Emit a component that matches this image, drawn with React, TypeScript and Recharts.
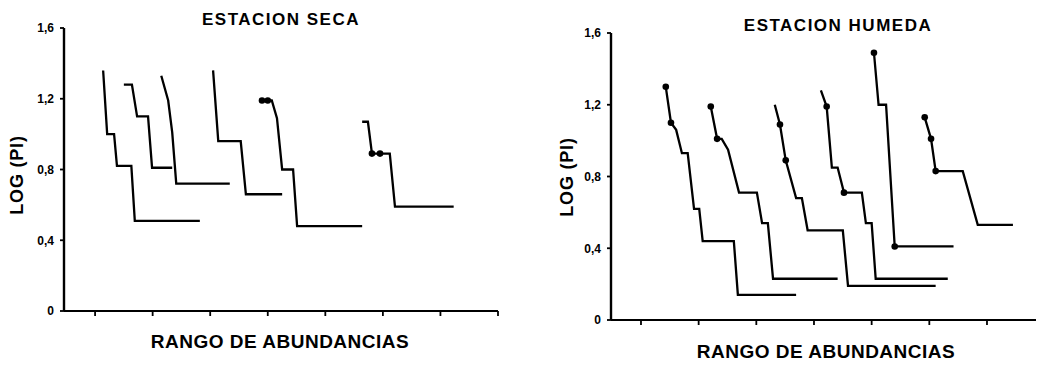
import React from "react";
import { LineChart, Line, XAxis, YAxis } from "recharts";

type P = { x: number; y: number; d?: boolean };

// ESTACION SECA curves (x = abundance rank position, y = log(Pi))
const seca1: P[] = [
  { x: 1.14, y: 1.36 }, { x: 1.21, y: 1.0 }, { x: 1.33, y: 1.0 }, { x: 1.38, y: 0.82 },
  { x: 1.63, y: 0.82 }, { x: 1.69, y: 0.51 }, { x: 2.82, y: 0.51 },
];
const seca2: P[] = [
  { x: 1.5, y: 1.28 }, { x: 1.64, y: 1.28 }, { x: 1.73, y: 1.1 }, { x: 1.92, y: 1.1 },
  { x: 1.99, y: 0.81 }, { x: 2.34, y: 0.81 },
];
const seca3: P[] = [
  { x: 2.15, y: 1.33 }, { x: 2.27, y: 1.19 }, { x: 2.34, y: 1.01 }, { x: 2.41, y: 0.72 },
  { x: 3.34, y: 0.72 },
];
const seca4: P[] = [
  { x: 3.05, y: 1.36 }, { x: 3.14, y: 0.96 }, { x: 3.53, y: 0.96 }, { x: 3.62, y: 0.66 },
  { x: 4.25, y: 0.66 },
];
const seca5: P[] = [
  { x: 3.9, y: 1.19, d: true }, { x: 4.0, y: 1.19, d: true }, { x: 4.07, y: 1.19 },
  { x: 4.16, y: 1.09 }, { x: 4.25, y: 0.8 }, { x: 4.44, y: 0.8 }, { x: 4.51, y: 0.48 },
  { x: 5.64, y: 0.48 },
];
const seca6: P[] = [
  { x: 5.64, y: 1.07 }, { x: 5.74, y: 1.07 }, { x: 5.81, y: 0.89, d: true },
  { x: 5.95, y: 0.89, d: true }, { x: 6.12, y: 0.89 }, { x: 6.21, y: 0.59 }, { x: 7.23, y: 0.59 },
];

// ESTACION HUMEDA curves
const humeda1: P[] = [
  { x: 1.43, y: 1.3, d: true }, { x: 1.52, y: 1.1, d: true }, { x: 1.61, y: 1.06 },
  { x: 1.71, y: 0.93 }, { x: 1.81, y: 0.93 }, { x: 1.92, y: 0.62 }, { x: 2.01, y: 0.62 },
  { x: 2.07, y: 0.44 }, { x: 2.61, y: 0.44 }, { x: 2.68, y: 0.14 }, { x: 3.69, y: 0.14 },
];
const humeda2: P[] = [
  { x: 2.21, y: 1.19, d: true }, { x: 2.32, y: 1.01, d: true }, { x: 2.4, y: 1.01 },
  { x: 2.51, y: 0.95 }, { x: 2.7, y: 0.71 }, { x: 3.01, y: 0.71 }, { x: 3.1, y: 0.54 },
  { x: 3.2, y: 0.54 }, { x: 3.29, y: 0.23 }, { x: 4.41, y: 0.23 },
];
const humeda3: P[] = [
  { x: 3.32, y: 1.2 }, { x: 3.41, y: 1.09, d: true }, { x: 3.51, y: 0.89, d: true },
  { x: 3.69, y: 0.68 }, { x: 3.79, y: 0.68 }, { x: 3.89, y: 0.5 }, { x: 4.5, y: 0.5 },
  { x: 4.59, y: 0.19 }, { x: 6.11, y: 0.19 },
];
const humeda4: P[] = [
  { x: 4.12, y: 1.28 }, { x: 4.22, y: 1.19, d: true }, { x: 4.31, y: 0.85 },
  { x: 4.41, y: 0.85 }, { x: 4.52, y: 0.71, d: true }, { x: 4.83, y: 0.71 },
  { x: 4.9, y: 0.54 }, { x: 5.0, y: 0.54 }, { x: 5.07, y: 0.23 }, { x: 6.32, y: 0.23 },
];
const humeda5: P[] = [
  { x: 5.04, y: 1.49, d: true }, { x: 5.12, y: 1.2 }, { x: 5.25, y: 1.2 },
  { x: 5.4, y: 0.41, d: true }, { x: 6.42, y: 0.41 },
];
const humeda6: P[] = [
  { x: 5.92, y: 1.13, d: true }, { x: 6.03, y: 1.01, d: true }, { x: 6.11, y: 0.83, d: true },
  { x: 6.58, y: 0.83 }, { x: 6.84, y: 0.53 }, { x: 7.45, y: 0.53 },
];

const yTicks = [0, 0.4, 0.8, 1.2, 1.6];
const xTicksSeca = [1, 2, 3, 4, 5, 6, 7, 8];
const xTicksHumeda = [1, 2, 3, 4, 5, 6, 7];

const titleSeca = "ESTACION SECA";
const titleHumeda = "ESTACION HUMEDA";
const xLabel = "RANGO DE ABUNDANCIAS";
const yLabel = "LOG (PI)";

const FONT = "'Liberation Sans', Arial, Helvetica, sans-serif";

const fmt = (v: number) => (v === 0 ? "0" : v.toFixed(1).replace(".", ","));

const renderDot = (props: any) => {
  const { cx, cy, payload, index, dataKey } = props;
  if (payload && payload.d) {
    return <circle key={`d-${dataKey}-${index}-${cx}`} cx={cx} cy={cy} r={3.3} fill="#000" stroke="none" />;
  }
  return <g key={`n-${dataKey}-${index}-${cx}`} />;
};

function Panel(props: {
  curves: P[][];
  xDomain: [number, number];
  xTicks: number[];
  margin: { top: number; right: number; bottom: number; left: number };
}) {
  const { curves, xDomain, xTicks, margin } = props;
  return (
    <LineChart width={519} height={368} margin={margin}>
      <XAxis
        type="number"
        dataKey="x"
        domain={xDomain}
        ticks={xTicks}
        allowDataOverflow
        tickFormatter={() => ""}
        tickSize={5}
        height={20}
        axisLine={{ stroke: "#000", strokeWidth: 2.2 }}
        tickLine={{ stroke: "#000", strokeWidth: 1.8 }}
      />
      <YAxis
        type="number"
        domain={[0, 1.6]}
        ticks={yTicks}
        allowDataOverflow
        width={40}
        tickSize={4}
        tickMargin={6}
        tickFormatter={fmt}
        tick={{ fill: "#000", fontSize: 12, fontWeight: 700, fontFamily: FONT }}
        axisLine={{ stroke: "#000", strokeWidth: 2.4 }}
        tickLine={{ stroke: "#000", strokeWidth: 1.8 }}
      />
      {curves.map((c, i) => (
        <Line
          key={i}
          data={c}
          dataKey="y"
          type="linear"
          stroke="#000"
          strokeWidth={2.3}
          dot={renderDot}
          activeDot={false}
          isAnimationActive={false}
        />
      ))}
    </LineChart>
  );
}

const textBase: React.CSSProperties = {
  position: "absolute",
  fontFamily: FONT,
  fontWeight: 700,
  color: "#000",
  whiteSpace: "nowrap",
  lineHeight: 1,
};

function T(props: { x: number; y: number; size: number; ls: number; rot?: boolean; children: string }) {
  const { x, y, size, ls, rot, children } = props;
  return (
    <div
      style={{
        ...textBase,
        left: x,
        top: y,
        fontSize: size,
        letterSpacing: ls,
        transform: `translate(-50%, -50%)${rot ? " rotate(-90deg)" : ""}`,
      }}
    >
      {children}
    </div>
  );
}

export default function App() {
  return (
    <div style={{ position: "absolute", left: 0, top: 0, width: 1038, height: 368, background: "#fff", overflow: "hidden" }}>
      <div style={{ position: "absolute", left: 0, top: 0 }}>
        <Panel
          curves={[seca1, seca2, seca3, seca4, seca5, seca6]}
          xDomain={[0.46, 8]}
          xTicks={xTicksSeca}
          margin={{ top: 28, right: 21, bottom: 37, left: 24 }}
        />
      </div>
      <div style={{ position: "absolute", left: 519, top: 0 }}>
        <Panel
          curves={[humeda1, humeda2, humeda3, humeda4, humeda5, humeda6]}
          xDomain={[0.48, 7.85]}
          xTicks={xTicksHumeda}
          margin={{ top: 33, right: 2, bottom: 28, left: 52 }}
        />
      </div>
      <T x={281} y={19} size={17} ls={1.5}>{titleSeca}</T>
      <T x={838} y={25} size={17} ls={1.5}>{titleHumeda}</T>
      <T x={280} y={341} size={19} ls={0.5}>{xLabel}</T>
      <T x={826} y={351} size={19} ls={0.5}>{xLabel}</T>
      <T x={17} y={175} size={18} ls={0.8} rot>{yLabel}</T>
      <T x={567} y={177} size={18} ls={0.8} rot>{yLabel}</T>
    </div>
  );
}
